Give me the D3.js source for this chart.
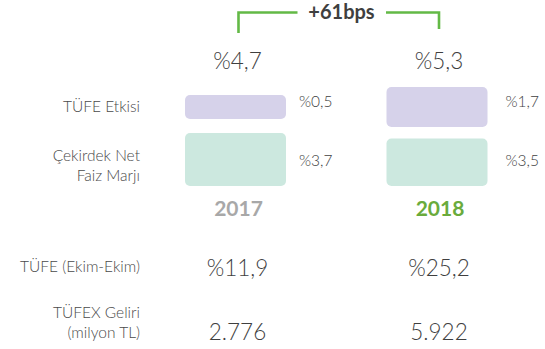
<!DOCTYPE html>
<html>
<head>
<meta charset="utf-8">
<script src="https://cdn.jsdelivr.net/npm/d3@7"></script>
<style>
  html, body { margin: 0; padding: 0; background: #fff; }
  svg { display: block; font-family: Lato, "Open Sans", sans-serif; }
</style>
</head>
<body>
<svg id="chart" width="545" height="349"></svg>
<script>
// Net faiz marjı ayrıştırması: 2017 vs 2018
const years = ["2017", "2018"];
const nimTotal = [4.7, 5.3];        // toplam net faiz marjı (%)
const tufeEffect = [0.5, 1.7];      // TÜFE etkisi (%)
const coreNim = [3.7, 3.5];         // çekirdek net faiz marjı (%)
const cpiYoY = [11.9, 25.2];        // TÜFE (Ekim-Ekim) (%)
const linkerIncome = [2776, 5922];  // TÜFEX geliri (milyon TL)
const bpsChange = 61;               // marj değişimi (baz puan)

const tr = d3.formatLocale({ decimal: ",", thousands: ".", grouping: [3], currency: ["", " TL"] });
const pct = v => "%" + tr.format(".1f")(v);
const thousands = tr.format(",d");
const bps = v => (v > 0 ? "+" : "") + v + "bps";

const svg = d3.select("#chart");

// column centres
const x = d3.scalePoint().domain(years).range([235.5, 437]);
const barW = 101;
const barX = d => x(d) - barW / 2;
const textX = d => x(d) + 2;

// bar heights, one scale per row
const hTufe = d3.scaleLinear().domain(d3.extent(tufeEffect)).range([24, 40]);
const hCore = d3.scaleLinear().domain(d3.extent(coreNim)).range([47.5, 53]);

const tufeMid = 107;   // TÜFE bars centred on this line
const coreBase = 186;  // core NIM bars sit on this line

const grey = "#3f3f3f";
const labelGrey = "#4a4a4a";
const numFont = 22.5, valFont = 15.5, labelFont = 15.5, light = 300;

// bracket with bps change
const bx0 = textX(years[0]) + 1, bx1 = textX(years[1]);
const bracketY = 12.5;
const g = svg.append("g");
g.append("path")
  .attr("d", `M${bx0},33 V${bracketY} H${bx0 + 59}`)
  .attr("fill", "none").attr("stroke", "#63b946").attr("stroke-width", 2.6);
g.append("path")
  .attr("d", `M${bx1 - 53},${bracketY} H${bx1} V29`)
  .attr("fill", "none").attr("stroke", "#63b946").attr("stroke-width", 2.6);
g.append("text")
  .attr("x", 341.5).attr("y", 19)
  .attr("text-anchor", "middle")
  .attr("font-size", 20).attr("font-weight", 700).attr("fill", grey)
  .text(bps(bpsChange));

// total NIM labels
svg.selectAll(".total").data(years).join("text")
  .attr("class", "total")
  .attr("x", d => textX(d)).attr("y", 69)
  .attr("text-anchor", "middle")
  .attr("font-size", numFont).attr("font-weight", light).attr("fill", grey)
  .text((d, i) => pct(nimTotal[i]));

// TÜFE effect bars
svg.selectAll(".tufe").data(years).join("rect")
  .attr("class", "tufe")
  .attr("x", d => barX(d)).attr("width", barW)
  .attr("y", (d, i) => tufeMid - hTufe(tufeEffect[i]) / 2)
  .attr("height", (d, i) => hTufe(tufeEffect[i]))
  .attr("rx", 5).attr("fill", "#d6d2ea");

// core NIM bars
svg.selectAll(".core").data(years).join("rect")
  .attr("class", "core")
  .attr("x", d => barX(d)).attr("width", barW)
  .attr("y", (d, i) => coreBase - hCore(coreNim[i]))
  .attr("height", (d, i) => hCore(coreNim[i]))
  .attr("rx", 5).attr("fill", "#cce8df");

// value labels beside bars
const valX = (d, i) => barX(d) + barW + (i === 0 ? 13 : 18);
svg.selectAll(".tufeVal").data(years).join("text")
  .attr("class", "tufeVal")
  .attr("x", valX).attr("y", 107)
  .attr("font-size", valFont).attr("font-weight", light).attr("fill", grey)
  .text((d, i) => pct(tufeEffect[i]));
svg.selectAll(".coreVal").data(years).join("text")
  .attr("class", "coreVal")
  .attr("x", valX).attr("y", 166)
  .attr("font-size", valFont).attr("font-weight", light).attr("fill", grey)
  .text((d, i) => pct(coreNim[i]));

// year labels
svg.selectAll(".year").data(years).join("text")
  .attr("class", "year")
  .attr("x", d => textX(d) + 1).attr("y", 216)
  .attr("text-anchor", "middle")
  .attr("font-size", 21).attr("font-weight", 700)
  .attr("fill", (d, i) => i === years.length - 1 ? "#6aab3c" : "#a8a8a8")
  .text(d => d);

// CPI and linker income rows
svg.selectAll(".cpi").data(years).join("text")
  .attr("class", "cpi")
  .attr("x", d => textX(d)).attr("y", 276)
  .attr("text-anchor", "middle")
  .attr("font-size", numFont).attr("font-weight", light).attr("fill", grey)
  .text((d, i) => pct(cpiYoY[i]));
svg.selectAll(".linker").data(years).join("text")
  .attr("class", "linker")
  .attr("x", d => textX(d)).attr("y", 340)
  .attr("text-anchor", "middle")
  .attr("font-size", numFont).attr("font-weight", light).attr("fill", grey)
  .text((d, i) => thousands(linkerIncome[i]));

// row titles, right aligned
const rowTitles = [
  { lines: ["TÜFE Etkisi"], y: 112 },
  { lines: ["Çekirdek Net", "Faiz Marjı"], y: 161 },
  { lines: ["TÜFE (Ekim-Ekim)"], y: 272 },
  { lines: ["TÜFEX Geliri", "(milyon TL)"], y: 318 }
];
rowTitles.forEach(r => {
  r.lines.forEach((line, k) => {
    svg.append("text")
      .attr("x", 140).attr("y", r.y + k * 20)
      .attr("text-anchor", "end")
      .attr("font-size", labelFont).attr("font-weight", light).attr("fill", labelGrey)
      .text(line);
  });
});
</script>
</body>
</html>
